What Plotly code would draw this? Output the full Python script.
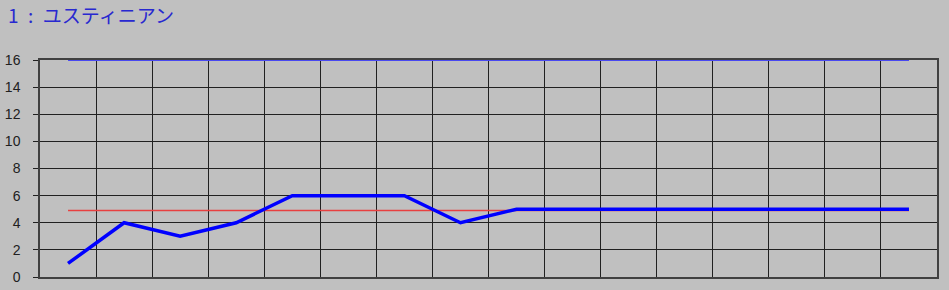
import plotly.graph_objects as go

categories = list(range(1, 17))
values = [1, 4, 3, 4, 6, 6, 6, 4, 5, 5, 5, 5, 5, 5, 5, 5]
reference = [4.9] * 16
upper = [16] * 16
y_ticks = [0, 2, 4, 6, 8, 10, 12, 14, 16]
title_text = "1\u2002:\u2002ユスティニアン"

fig = go.Figure()
fig.add_trace(go.Scatter(x=categories, y=upper, mode="lines",
                         line=dict(color="#4848F0", width=2), hoverinfo="skip"))
fig.add_trace(go.Scatter(x=categories, y=reference, mode="lines",
                         line=dict(color="#E84040", width=1.5), hoverinfo="skip"))
fig.add_trace(go.Scatter(x=categories, y=values, mode="lines",
                         line=dict(color="#0000FF", width=3.5), hoverinfo="skip"))

W, H = 949, 290
fig.update_layout(
    width=W, height=H,
    margin=dict(l=40, r=12, t=60, b=13),
    paper_bgcolor="#C0C0C0", plot_bgcolor="#C0C0C0",
    showlegend=False,
    title=dict(text=title_text, x=8 / W, xanchor="left", xref="container",
               y=1 - 16 / H, yanchor="middle", yref="container",
               font=dict(family="Noto Sans CJK JP", size=19, color="#2828D0")),
    font=dict(family="Liberation Sans, Arial", size=14, color="#202020"),
)
fig.update_xaxes(range=[0.5, 16.5], tick0=0.5, dtick=1, showticklabels=False,
                 showgrid=True, gridcolor="#202020", gridwidth=1,
                 showline=True, linecolor="#404040", linewidth=1.5, mirror=True,
                 ticks="", zeroline=False, fixedrange=True, automargin=False)
fig.update_yaxes(range=[0, 16], tickvals=y_ticks, showgrid=True,
                 gridcolor="#202020", gridwidth=1,
                 showline=True, linecolor="#404040", linewidth=1.5, mirror=True,
                 ticks="outside", ticklen=5, tickcolor="#202020",
                 ticklabelstandoff=10,
                 zeroline=False, fixedrange=True, automargin=False)

fig.write_html("out.html")
